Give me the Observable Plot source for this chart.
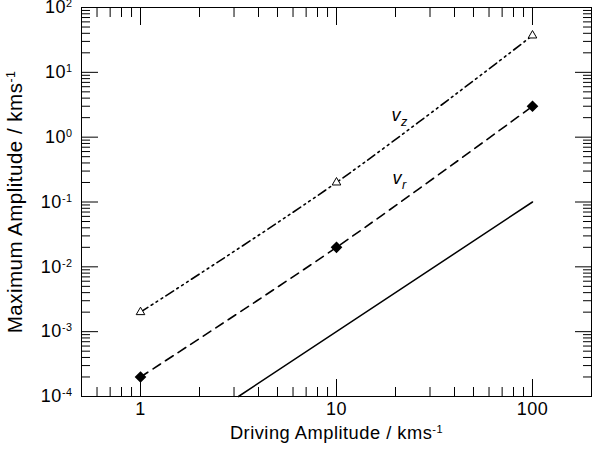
<!DOCTYPE html>
<html>
<head>
<meta charset="utf-8">
<script src="https://cdn.jsdelivr.net/npm/d3@7"></script>
<script src="https://cdn.jsdelivr.net/npm/@observablehq/plot@0.6"></script>
<style>
  html, body { margin: 0; padding: 0; background: #fff; }
  #chart { width: 592px; height: 452px; }
  #chart text { letter-spacing: 0.5px; }
</style>
</head>
<body>
<div id="chart"></div>
<script>
// ---- data ----
const vzX = [1, 10, 100];
const vzY = [0.002, 0.2, 37];
const vrX = [1, 10, 100];
const vrY = [0.0002, 0.02, 3];
const refX = [3.16, 100];
const refY = [0.0001, 0.1];

const xMajor = [1, 10, 100];
const xMinor = [0.6, 0.7, 0.8, 0.9, 2, 3, 4, 5, 6, 7, 8, 9, 20, 30, 40, 50, 60, 70, 80, 90];
const yMajor = [1e-4, 1e-3, 1e-2, 1e-1, 1, 10, 100];
const yMinor = [];
for (const d of [1e-4, 1e-3, 1e-2, 1e-1, 1, 10]) for (const m of [2,3,4,5,6,7,8,9]) yMinor.push(d * m);
const xTickText = ["1", "10", "100"];
const yTickText = ["10^{-4}", "10^{-3}", "10^{-2}", "10^{-1}", "10^{0}", "10^{1}", "10^{2}"];

const labelText = ["v_{z}", "v_{r}"];
const labelX = [21, 21];
const labelY = [2.15, 0.23];

const xTitle = "Driving Amplitude / kms^{-1}";
const yTitle = "Maximum Amplitude / kms^{-1}";

const vz = vzX.map((x, i) => ({x, y: vzY[i]}));
const vr = vrX.map((x, i) => ({x, y: vrY[i]}));
const ref = refX.map((x, i) => ({x, y: refY[i]}));
const labels = labelText.map((t, i) => ({t, x: labelX[i], y: labelY[i]}));

const FONT = "'Liberation Sans', Arial, Helvetica, sans-serif";
const INK = "#000";
const FS_TICK = 18, FS_XT = 18.3, FS_YT = 20.5, FS_LAB = 18;

const chart = Plot.plot({
  width: 592,
  height: 452,
  marginLeft: 81,
  marginRight: 1,
  marginTop: 7,
  marginBottom: 56,
  style: {fontFamily: FONT, fontSize: "18px", color: INK, background: "#fff"},
  x: {type: "log", domain: [0.5, 200]},
  y: {type: "log", domain: [1e-4, 100]},
  marks: [
    // inward tick marks on four sides
    Plot.axisX({anchor: "bottom", ticks: xMajor, tickSize: -17, tickFormat: () => "", label: null, stroke: INK}),
    Plot.axisX({anchor: "bottom", ticks: xMinor, tickSize: -9, tickFormat: () => "", label: null, stroke: INK}),
    Plot.axisX({anchor: "top", ticks: xMajor, tickSize: -17, tickFormat: () => "", label: null, stroke: INK}),
    Plot.axisX({anchor: "top", ticks: xMinor, tickSize: -9, tickFormat: () => "", label: null, stroke: INK}),
    Plot.axisY({anchor: "left", ticks: yMajor, tickSize: -17, tickFormat: () => "", label: null, stroke: INK}),
    Plot.axisY({anchor: "left", ticks: yMinor, tickSize: -9, tickFormat: () => "", label: null, stroke: INK}),
    Plot.axisY({anchor: "right", ticks: yMajor, tickSize: -17, tickFormat: () => "", label: null, stroke: INK}),
    Plot.axisY({anchor: "right", ticks: yMinor, tickSize: -9, tickFormat: () => "", label: null, stroke: INK}),
    // tick labels
    Plot.axisX({anchor: "bottom", ticks: xMajor, tickSize: 0, tickPadding: 6, tickFormat: d => xTickText[xMajor.indexOf(d)], label: null}),
    Plot.axisY({anchor: "left", ticks: yMajor, tickSize: 0, tickPadding: 9, tickFormat: d => yTickText[yMajor.indexOf(d)], label: null}),
    Plot.frame({stroke: INK, strokeWidth: 1}),
    // data
    Plot.line(ref, {x: "x", y: "y", stroke: INK, strokeWidth: 1.5}),
    Plot.line(vr, {x: "x", y: "y", stroke: INK, strokeWidth: 1.6, strokeDasharray: "9,6", curve: "catmull-rom"}),
    Plot.line(vz, {x: "x", y: "y", stroke: INK, strokeWidth: 1.6, strokeDasharray: "9,4,1.8,4,1.8,4,1.8,4", curve: "catmull-rom"}),
    Plot.dot(vr, {x: "x", y: "y", symbol: "diamond2", r: 4.3, fill: INK, stroke: INK}),
    Plot.dot(vz, {x: "x", y: "y", symbol: "triangle", r: 3.2, fill: "#fff", stroke: INK, strokeWidth: 1}),
    Plot.text(labels, {x: "x", y: "y", text: "t", fontSize: FS_LAB, fontStyle: "italic", fill: INK}),
    // titles
    Plot.text([xTitle], {frameAnchor: "bottom", dy: 37, textAnchor: "middle", lineAnchor: "middle", text: d => d, fontSize: FS_XT, fill: INK}),
    Plot.text([yTitle], {frameAnchor: "left", dx: -66, rotate: -90, textAnchor: "middle", lineAnchor: "middle", text: d => d, fontSize: FS_YT, fill: INK})
  ]
});

const tickSet = new Set([...xTickText, ...yTickText]);

// tick label sizes, and ^{..} / _{..} into real superscript/subscript tspans
d3.select(chart).selectAll("text").each(function () {
  const s = this.textContent;
  const el = d3.select(this);
  if (tickSet.has(s)) el.attr("font-size", FS_TICK).style("font-size", FS_TICK + "px");
  const m = s.match(/^(.*?)([\^_])\{(.*)\}$/);
  if (!m) return;
  el.selectAll("*").remove();
  el.text(null);
  el.append("tspan").text(m[1]);
  const sup = m[2] === "^";
  el.append("tspan")
    .attr("dy", sup ? "-0.55em" : "0.4em")
    .attr("font-size", sup ? "0.6em" : "0.7em")
    .attr("font-style", sup ? "normal" : null)
    .text(m[3]);
});

document.getElementById("chart").appendChild(chart);
</script>
</body>
</html>
